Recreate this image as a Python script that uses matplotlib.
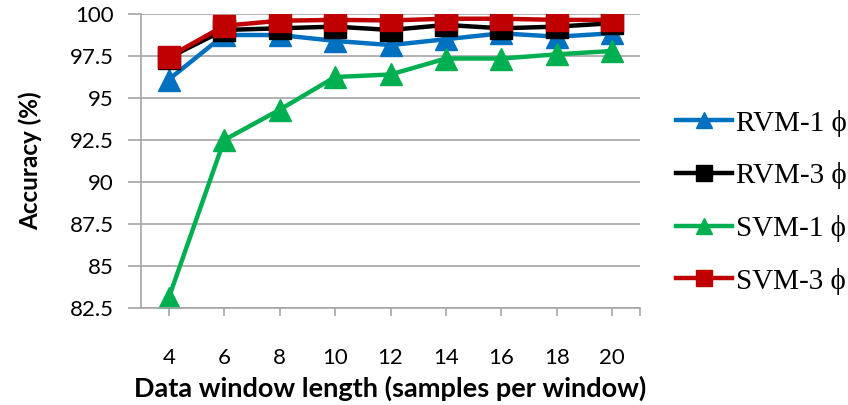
import matplotlib
matplotlib.use('Agg')
import matplotlib.pyplot as plt

# window lengths and accuracy (%) per classifier
window = [4, 6, 8, 10, 12, 14, 16, 18, 20]
rvm_1 = [96.1, 98.75, 98.75, 98.4, 98.15, 98.5, 98.85, 98.65, 98.85]
rvm_3 = [97.4, 99.05, 99.15, 99.25, 99.05, 99.35, 99.15, 99.25, 99.45]
svm_1 = [83.1, 92.5, 94.3, 96.25, 96.4, 97.35, 97.35, 97.6, 97.8]
svm_3 = [97.45, 99.3, 99.6, 99.65, 99.62, 99.72, 99.72, 99.65, 99.65]

series = [
    ('RVM-1 \u03d5', rvm_1, '#0070C0', '^'),
    ('RVM-3 \u03d5', rvm_3, '#000000', 's'),
    ('SVM-1 \u03d5', svm_1, '#00B050', '^'),
    ('SVM-3 \u03d5', svm_3, '#C00000', 's'),
]

fig = plt.figure(figsize=(8.48, 4.05), dpi=100)
ax = fig.add_axes([0.1663, 0.2395, 0.5884, 0.7259])

for name, vals, col, mk in series:
    ax.plot(window, vals, color=col, lw=3.2, marker=mk,
            markersize=15.5 if mk == 's' else 16, label=name)

ax.set_xlim(3, 21)
ax.set_ylim(82.5, 100)
ax.set_xticks(window + [21])
ax.set_xticklabels([str(w) for w in window] + [''])
yt = [82.5, 85, 87.5, 90, 92.5, 95, 97.5, 100]
ax.set_yticks(yt)
ax.set_yticklabels(['%g' % v for v in yt])

ax.grid(axis='y', color='#a6a6a6', lw=1.2)
ax.set_axisbelow(True)
for s in ['top', 'right']:
    ax.spines[s].set_visible(False)
for s in ['left', 'bottom']:
    ax.spines[s].set_color('#a6a6a6')
    ax.spines[s].set_linewidth(1.2)
ax.tick_params(axis='both', colors='#a6a6a6', width=1.2,
               labelcolor='black', labelsize=16)
ax.tick_params(axis='y', length=9.5, pad=10)
ax.tick_params(axis='x', length=5.5, pad=23)
for t in ax.get_xticklabels() + ax.get_yticklabels():
    t.set_family('Lato')

ax.set_xlabel('Data window length (samples per window)', family='Lato',
              fontweight='bold', fontsize=19.5, labelpad=6)
ax.set_ylabel('Accuracy (%)', family='Lato', fontweight='bold',
              fontsize=17.5, labelpad=20)

ax.legend(loc='center left', bbox_to_anchor=(1.02, 0.36), frameon=False,
          prop={'family': ['Liberation Serif', 'DejaVu Serif'], 'size': 21},
          handlelength=1.9, handletextpad=0.15, labelspacing=0.88,
          markerscale=0.72)

fig.savefig('out.png', dpi=100)
